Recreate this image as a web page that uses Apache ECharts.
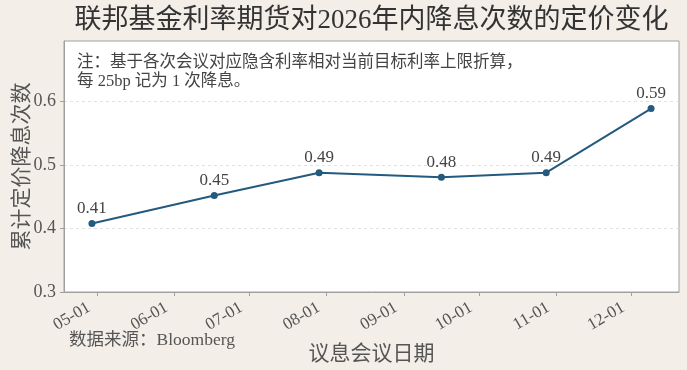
<!DOCTYPE html>
<html>
<head>
<meta charset="utf-8">
<script src="https://cdn.jsdelivr.net/npm/echarts@6/dist/echarts.min.js"></script>
<style>
html,body{margin:0;padding:0;background:#f3efe8;}
#chart{width:687px;height:370px;}
</style>
</head>
<body>
<div id="chart"></div>
<script>
// ---- data ----
const titleText = '联邦基金利率期货对2026年内降息次数的定价变化';
const noteText = '注：基于各次会议对应隐含利率相对当前目标利率上限折算，\n每 25bp 记为 1 次降息。';
const sourceText = '数据来源：Bloomberg';
const xAxisName = '议息会议日期';
const yAxisName = '累计定价降息次数';
const meetingDates = ['2026-04-29', '2026-06-17', '2026-07-29', '2026-09-16', '2026-10-28', '2026-12-09'];
const cutCounts = [0.408, 0.452, 0.488, 0.481, 0.488, 0.589];
const xTickLabels = ['05-01', '06-01', '07-01', '08-01', '09-01', '10-01', '11-01', '12-01'];
const yTicks = [0.3, 0.4, 0.5, 0.6];
const yMin = 0.3;
const yMax = 0.6955;

const FONT = "'Liberation Serif', 'Noto Sans CJK SC', serif";
function ts(s) { const p = s.split('-').map(Number); return Date.UTC(p[0], p[1] - 1, p[2]); }
const xs = meetingDates.map(ts);
const span = xs[xs.length - 1] - xs[0];
const xMin = xs[0] - span * 0.05;
const xMax = xs[xs.length - 1] + span * 0.05;
const xTickValues = xTickLabels.map(l => ts('2026-' + l));
const seriesData = meetingDates.map((d, i) => [xs[i], cutCounts[i]]);

const chart = echarts.init(document.getElementById('chart'), null, {renderer: 'canvas'});
chart.setOption({
  backgroundColor: '#f3efe8',
  animation: false,
  grid: {
    left: 64, right: 8, top: 41, bottom: 77.4,
    show: true, backgroundColor: '#ffffff', borderColor: '#a0a0a0', borderWidth: 1,
    containLabel: false
  },
  xAxis: {
    type: 'value',
    min: xMin, max: xMax,
    name: xAxisName,
    nameLocation: 'middle',
    nameGap: 52,
    nameTextStyle: {fontFamily: FONT, fontSize: 21, color: '#555'},
    axisLine: {show: true, lineStyle: {color: '#a0a0a0', width: 1}},
    axisTick: {show: true, length: 4, lineStyle: {color: '#a0a0a0'}, customValues: xTickValues},
    axisLabel: {
      customValues: xTickValues,
      rotate: 30, margin: 10,
      padding: [0, 9, 0, 0],
      fontFamily: FONT, fontSize: 17, color: '#555',
      formatter: function (v) {
        const d = new Date(v);
        const m = String(d.getUTCMonth() + 1).padStart(2, '0');
        const dd = String(d.getUTCDate()).padStart(2, '0');
        return m + '-' + dd;
      }
    },
    splitLine: {show: false}
  },
  yAxis: {
    type: 'value',
    min: yMin, max: yMax,
    name: yAxisName,
    nameLocation: 'middle',
    nameRotate: 90,
    nameGap: 31,
    nameMoveOverlap: false,
    nameTextStyle: {fontFamily: FONT, fontSize: 21, color: '#555'},
    axisLine: {show: true, lineStyle: {color: '#a0a0a0', width: 1}},
    axisTick: {show: true, length: 4, lineStyle: {color: '#a0a0a0'}, customValues: yTicks},
    axisLabel: {
      customValues: yTicks,
      margin: 8,
      fontFamily: FONT, fontSize: 18, color: '#555',
      formatter: v => v.toFixed(1)
    },
    splitLine: {show: true, lineStyle: {color: '#e2e2e2', type: [3, 3], width: 1}}
  },
  series: [{
    type: 'line',
    data: seriesData,
    symbol: 'circle',
    symbolSize: 7,
    itemStyle: {color: '#245a7e'},
    lineStyle: {color: '#245a7e', width: 2},
    label: {
      show: true, position: 'top', distance: 3,
      fontFamily: FONT, fontSize: 17, color: '#444',
      formatter: p => p.value[1].toFixed(2)
    },
    z: 5
  }],
  graphic: [
    {type: 'text', x: 371.5, y: 21, z: 10, style: {text: titleText, font: "27px " + FONT, fill: '#333', align: 'center', verticalAlign: 'middle'}},
    {type: 'text', x: 77, y: 53, z: 10, style: {text: noteText, font: "16.5px " + FONT, fill: '#444', align: 'left', verticalAlign: 'top', lineHeight: 19}},
    {type: 'text', x: 69, y: 340, z: 10, style: {text: sourceText, font: "17.5px " + FONT, fill: '#555', align: 'left', verticalAlign: 'middle'}}
  ]
});
</script>
</body>
</html>
